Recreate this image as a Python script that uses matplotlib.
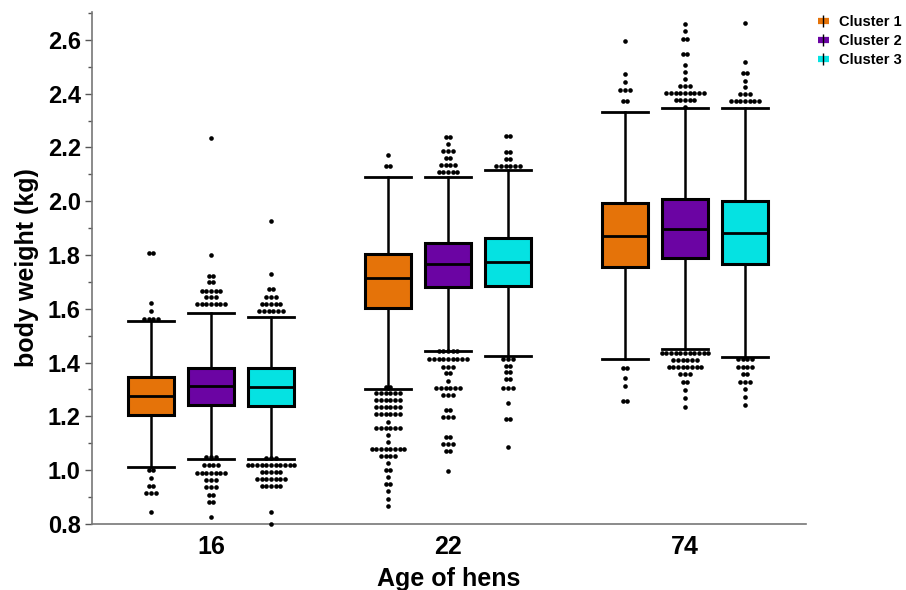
import matplotlib
matplotlib.use('Agg')
import matplotlib.pyplot as plt
import numpy as np
from matplotlib.lines import Line2D
from matplotlib.legend_handler import HandlerTuple
from matplotlib.ticker import MultipleLocator

plt.rcParams['font.family'] = ['Liberation Sans', 'DejaVu Sans']
plt.rcParams['font.weight'] = 'bold'

# data
ages = ['16', '22', '74']
clusters = ['Cluster 1', 'Cluster 2', 'Cluster 3']
colors = ['#E57309', '#6B04A3', '#05E2E2']

medians = [[1.275, 1.313, 1.310], [1.715, 1.767, 1.774], [1.871, 1.897, 1.882]]
q1 = [[1.207, 1.243, 1.240], [1.603, 1.681, 1.685], [1.756, 1.789, 1.767]]
q3 = [[1.347, 1.380, 1.380], [1.804, 1.845, 1.864], [1.994, 2.009, 2.001]]
whislo = [[1.012, 1.042, 1.042], [1.302, 1.442, 1.425], [1.414, 1.451, 1.421]]
whishi = [[1.555, 1.585, 1.570], [2.090, 2.090, 2.116], [2.332, 2.347, 2.347]]

# outliers: value of each row of dots and how many dots in it
out_vals = [
    [[1.808, 1.622, 1.593, 1.562, 1.0, 0.97, 0.943, 0.917, 0.843],
     [2.235, 1.80, 1.722, 1.70, 1.666, 1.644, 1.618, 1.05, 1.02, 0.99, 0.963, 0.937, 0.908, 0.88, 0.826],
     [1.927, 1.73, 1.674, 1.645, 1.618, 1.592, 1.045, 1.02, 0.993, 0.967, 0.94, 0.845, 0.80]],
    [[2.172, 2.13, 1.31, 1.287, 1.261, 1.235, 1.21, 1.18, 1.157, 1.13, 1.105, 1.079, 1.053, 1.027,
      1.0, 0.975, 0.949, 0.923, 0.893, 0.867],
     [2.239, 2.213, 2.187, 2.161, 2.133, 2.107, 1.443, 1.414, 1.384, 1.362, 1.332, 1.306, 1.28,
      1.224, 1.198, 1.124, 1.098, 1.071, 0.997],
     [2.243, 2.183, 2.157, 2.131, 1.414, 1.388, 1.365, 1.34, 1.306, 1.25, 1.19, 1.086]],
    [[2.596, 2.473, 2.444, 2.414, 2.373, 1.38, 1.343, 1.313, 1.257],
     [2.659, 2.633, 2.604, 2.548, 2.507, 2.481, 2.455, 2.429, 2.403, 2.377, 2.35,
      1.436, 1.41, 1.384, 1.358, 1.328, 1.298, 1.268, 1.235],
     [2.663, 2.518, 2.477, 2.447, 2.425, 2.399, 2.373, 1.414, 1.384, 1.358, 1.328, 1.302, 1.272, 1.243]],
]
out_counts = [
    [[2, 1, 1, 4, 2, 1, 2, 3, 1],
     [1, 1, 2, 2, 5, 3, 7, 3, 4, 7, 3, 3, 2, 2, 1],
     [1, 1, 2, 3, 5, 6, 3, 11, 5, 7, 5, 1, 1]],
    [[1, 2, 2, 6, 6, 6, 6, 1, 6, 1, 1, 8, 4, 1, 2, 1, 2, 1, 1, 1],
     [2, 1, 3, 2, 4, 5, 5, 9, 3, 2, 1, 6, 3, 2, 3, 2, 3, 2, 1],
     [2, 2, 2, 6, 3, 2, 2, 2, 3, 1, 2, 1]],
    [[1, 1, 1, 3, 2, 2, 1, 1, 2],
     [1, 1, 2, 2, 1, 1, 1, 3, 9, 5, 1, 11, 6, 8, 3, 2, 1, 1, 1],
     [1, 1, 2, 1, 1, 3, 7, 4, 4, 2, 3, 1, 1, 1]],
]

fig = plt.figure(figsize=(9.06, 5.90), dpi=100)
ax = fig.add_axes([0.1015, 0.1119, 0.788, 0.868])

offset = 0.253
width = 0.194
dot_step = 0.0197

for g in range(len(ages)):
    for c in range(len(clusters)):
        pos = g + (c - 1) * offset
        stats = [dict(med=medians[g][c], q1=q1[g][c], q3=q3[g][c],
                      whislo=whislo[g][c], whishi=whishi[g][c], fliers=[])]
        ax.bxp(stats, positions=[pos], widths=width, patch_artist=True,
               showfliers=False,
               boxprops=dict(facecolor=colors[c], edgecolor='black', linewidth=2.2),
               medianprops=dict(color='black', linewidth=2.0),
               whiskerprops=dict(color='black', linewidth=1.8),
               capprops=dict(color='black', linewidth=2.0),
               capwidths=width, zorder=2)
        xs, ys = [], []
        for v, n in zip(out_vals[g][c], out_counts[g][c]):
            for k in range(n):
                xs.append(pos + (k - (n - 1) / 2) * dot_step)
                ys.append(v)
        ax.scatter(xs, ys, s=11, color='black', linewidths=0, zorder=3, clip_on=False)

ax.set_xlim(-0.502, 2.51)
ax.set_ylim(0.8, 2.704)
ax.set_xticks(range(len(ages)))
ax.set_xticklabels(ages, fontsize=18, fontweight='bold')
ax.tick_params(axis='x', length=0, pad=8)
ax.yaxis.set_minor_locator(MultipleLocator(0.1))
ax.set_yticks(np.arange(0.8, 2.61, 0.2))
ax.set_yticklabels([f'{v:.1f}' for v in np.arange(0.8, 2.61, 0.2)], fontsize=17, fontweight='bold')
ax.tick_params(axis='y', which='major', length=5, width=1, color='#555555', pad=3)
ax.tick_params(axis='y', which='minor', length=3, width=1, color='#555555')
for s in ['top', 'right']:
    ax.spines[s].set_visible(False)
for s in ['left', 'bottom']:
    ax.spines[s].set_color('#777777')
    ax.spines[s].set_linewidth(1.2)

ax.set_xlabel('Age of hens', fontsize=18, fontweight='bold', labelpad=6)
ax.set_ylabel('body weight (kg)', fontsize=18, fontweight='bold', labelpad=6)

handles = []
for c in range(len(clusters)):
    rect = Line2D([], [], linestyle='-', linewidth=4.5, color=colors[c], solid_capstyle='butt')
    bar = Line2D([], [], marker='|', linestyle='none', markersize=9,
                 markeredgecolor='black', markeredgewidth=1.0)
    handles.append((rect, bar))
fig.legend(handles, clusters, handler_map={tuple: HandlerTuple(ndivide=1)},
           loc='upper left', bbox_to_anchor=(0.896, 0.985), frameon=False,
           prop=dict(size=10.5, weight='bold'), handlelength=0.8, handletextpad=0.7,
           labelspacing=0.35, borderaxespad=0)

fig.savefig('out.png', dpi=100)
